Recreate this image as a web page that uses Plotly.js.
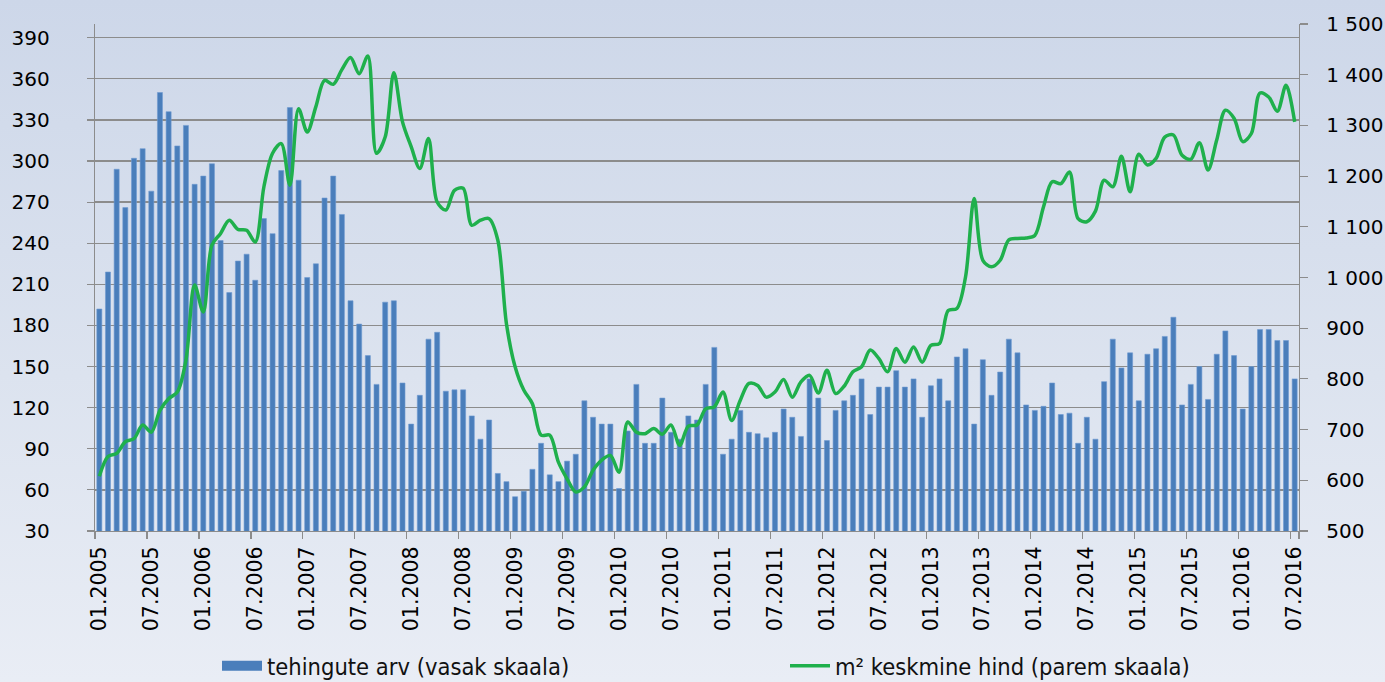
<!DOCTYPE html>
<html>
<head>
<meta charset="utf-8">
<script src="https://cdn.plot.ly/plotly-3.0.1.min.js"></script>
<style>
  html, body { margin: 0; padding: 0; }
  body { width: 1385px; height: 682px; background: linear-gradient(to bottom, #cdd7e9 0%, #dce3ef 55%, #e9edf5 100%); }
  #chart { width: 1385px; height: 682px; }
</style>
</head>
<body>
<div id="chart"></div>
<script>
// Monthly categories 01.2005 ... 07.2016
const startYear = 2005, startMonth = 1, monthCount = 139;
const months = [];
for (let i = 0; i < monthCount; i++) {
  const m = (startMonth - 1 + i) % 12 + 1;
  const y = startYear + Math.floor((startMonth - 1 + i) / 12);
  months.push((m < 10 ? '0' : '') + m + '.' + y);
}

// tehingute arv (vasak skaala)
const transactions = [
  192, 219, 294, 266, 302, 309, 278, 350, 336, 311, 326, 283,
  289, 298, 242, 204, 227, 232, 213, 258, 247, 293, 339, 286,
  215, 225, 273, 289, 261, 198, 181, 158, 137, 197, 198, 138,
  108, 129, 170, 175, 132, 133, 133, 114, 97, 111, 72, 66,
  55, 59, 75, 94, 71, 66, 81, 86, 125, 113, 108, 108,
  61, 103, 137, 94, 94, 127, 102, 97, 114, 111, 137, 164,
  86, 97, 118, 102, 101, 98, 102, 119, 113, 99, 141, 127,
  96, 118, 125, 129, 141, 115, 135, 135, 147, 135, 141, 113,
  136, 141, 125, 157, 163, 108, 155, 129, 146, 170, 160, 122,
  118, 121, 138, 115, 116, 94, 113, 97, 139, 170, 149, 160,
  125, 159, 163, 172, 186, 122, 137, 150, 126, 159, 176, 158,
  119, 150, 177, 177, 169, 169, 141
];

// m² keskmine hind (parem skaala)
const avgPrice = [
  608, 647, 653, 676, 682, 709, 695, 738, 761, 774, 837, 985,
  932, 1064, 1087, 1113, 1095, 1093, 1070, 1179, 1245, 1264, 1182, 1333,
  1287, 1337, 1389, 1381, 1410, 1434, 1402, 1437, 1245, 1277, 1404, 1307,
  1258, 1215, 1274, 1149, 1133, 1172, 1176, 1103, 1113, 1116, 1074, 909,
  824, 778, 751, 689, 689, 636, 603, 577, 587, 620, 640, 649,
  616, 715, 695, 692, 702, 691, 709, 669, 707, 709, 741, 745,
  774, 718, 758, 791, 787, 764, 774, 799, 764, 794, 807, 772,
  817, 771, 786, 814, 824, 857, 840, 814, 860, 833, 863, 833,
  866, 870, 935, 939, 1001, 1156, 1034, 1021, 1034, 1074, 1077, 1078,
  1083, 1139, 1189, 1185, 1208, 1116, 1110, 1131, 1192, 1179, 1239, 1169,
  1243, 1222, 1235, 1277, 1281, 1241, 1233, 1266, 1212, 1271, 1330, 1314,
  1268, 1284, 1364, 1356, 1328, 1379, 1307
];

const leftTicks = [30, 60, 90, 120, 150, 180, 210, 240, 270, 300, 330, 360, 390];
const rightTicks = [500, 600, 700, 800, 900, 1000, 1100, 1200, 1300, 1400, 1500];
const xTickLabels = months.filter((_, i) => i % 6 === 0);

const seriesNames = ['tehingute arv (vasak skaala)', 'm\u00b2 keskmine hind (parem skaala)'];

const font = 'DejaVu Sans, Verdana, sans-serif';
const gridCol = '#8c8c8c';
const barCol = '#4a7ebb';

const traces = [
  {
    type: 'bar', x: months, y: transactions, name: seriesNames[0],
    marker: { color: barCol, line: { width: 0.6, color: '#6f9bd1' } },
    xaxis: 'x', yaxis: 'y', hoverinfo: 'x+y', showlegend: false, legendgroup: 'bars'
  },
  // legend entry for the bars, drawn as a wide block like the original
  {
    type: 'scatter', mode: 'lines', x: [null], y: [null], name: seriesNames[0],
    line: { color: barCol, width: 12 }, xaxis: 'x', yaxis: 'y', legendgroup: 'bars',
    hoverinfo: 'skip'
  },
  {
    type: 'scatter', mode: 'lines', x: months, y: avgPrice, name: seriesNames[1],
    line: { color: '#1fb04c', width: 3.5, shape: 'spline', smoothing: 0.9 },
    xaxis: 'x', yaxis: 'y2', hoverinfo: 'x+y'
  }
];

const layout = {
  width: 1385, height: 682,
  margin: { l: 95, r: 86, t: 24, b: 151 },
  paper_bgcolor: 'rgba(0,0,0,0)', plot_bgcolor: 'rgba(0,0,0,0)',
  separators: ', ',
  font: { family: font, size: 20, color: '#000' },
  bargap: 0.42,
  showlegend: true,
  legend: {
    orientation: 'h', xref: 'container', yref: 'container',
    x: 217 / 1385, xanchor: 'left', y: (682 - 666) / 682, yanchor: 'middle',
    font: { family: 'DejaVu Sans Condensed, DejaVu Sans, sans-serif', size: 23.5, color: '#111' },
    itemwidth: 40,
    entrywidth: 513, entrywidthmode: 'pixels',
    bgcolor: 'rgba(0,0,0,0)', traceorder: 'normal'
  },
  xaxis: {
    type: 'category', categoryorder: 'array', categoryarray: months,
    tickmode: 'array', tickvals: xTickLabels, ticktext: xTickLabels,
    tickson: 'boundaries', ticks: 'outside', ticklen: 7, tickcolor: gridCol, tickwidth: 1.2,
    tickangle: -90, ticklabelstandoff: 6,
    showline: true, linecolor: gridCol, linewidth: 1.2,
    showgrid: false, zeroline: false,
    tickfont: { family: font, size: 20.5, color: '#000' },
    range: [-0.5, monthCount - 0.5], fixedrange: true
  },
  yaxis: {
    range: [30, 400], tickmode: 'array', tickvals: leftTicks,
    ticks: 'outside', ticklen: 7, tickcolor: gridCol, tickwidth: 1.2,
    ticklabelstandoff: 33,
    showline: true, linecolor: gridCol, linewidth: 1.2,
    showgrid: true, gridcolor: gridCol, gridwidth: 1.3,
    zeroline: false,
    tickfont: { family: font, size: 20, color: '#000' }, fixedrange: true
  },
  yaxis2: {
    overlaying: 'y', side: 'right', anchor: 'x',
    range: [500, 1500], tickmode: 'array', tickvals: rightTicks,
    separatethousands: true, tickformat: ',d',
    ticks: 'outside', ticklen: 8, tickcolor: gridCol, tickwidth: 1.2,
    ticklabelstandoff: 14,
    showline: true, linecolor: gridCol, linewidth: 1.2,
    showgrid: false, zeroline: false,
    tickfont: { family: font, size: 20, color: '#000' }, fixedrange: true
  }
};

Plotly.newPlot('chart', traces, layout, { displayModeBar: false, staticPlot: true });
</script>
</body>
</html>
